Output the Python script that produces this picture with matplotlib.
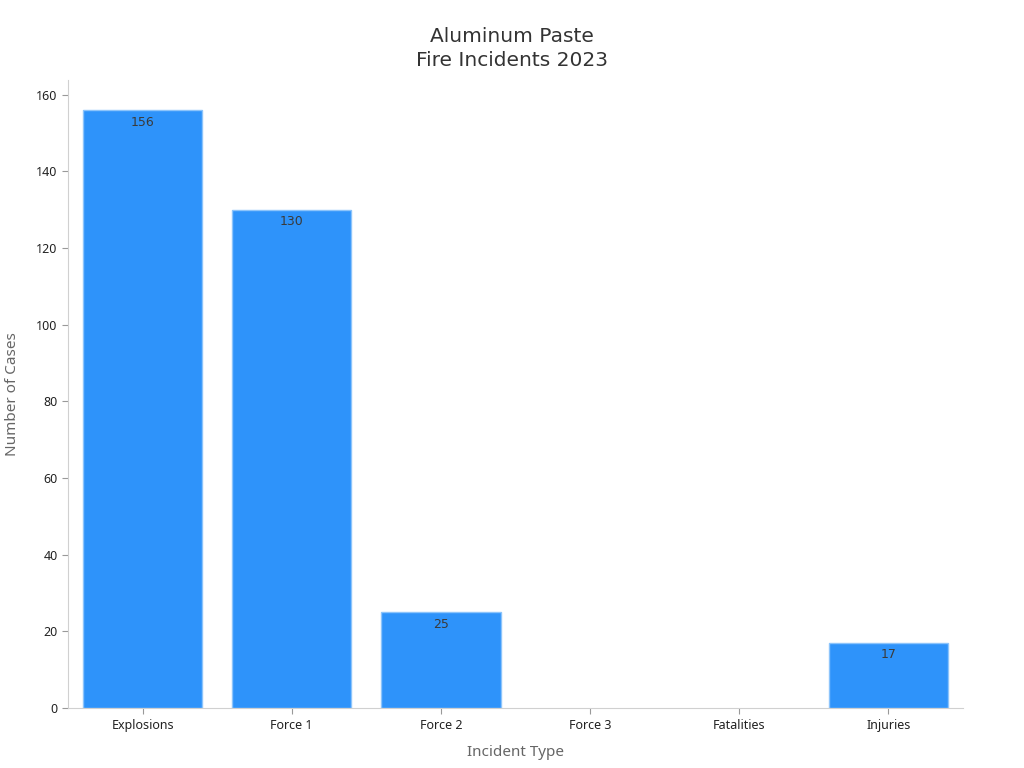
import matplotlib
matplotlib.use("Agg")
import matplotlib.pyplot as plt

plt.rcParams['font.family'] = ['Noto Sans', 'DejaVu Sans']

# data
categories = ["Explosions", "Force 1", "Force 2", "Force 3", "Fatalities", "Injuries"]
cases = [156, 130, 25, 0, 0, 17]

fig = plt.figure(figsize=(10.24, 7.68), dpi=100)
ax = fig.add_axes([0.0664, 0.078, 0.874, 0.818])

x = list(range(len(categories)))
bars = ax.bar(x, cases, width=0.8, color="#2E93FA", edgecolor="#8cc4fb", linewidth=1)

for rect, v in zip(bars, cases):
    if v > 0:
        ax.text(rect.get_x() + rect.get_width() / 2, v - 1.4, str(v),
                ha="center", va="top", fontsize=9, color="#3a3a3a",
                family="DejaVu Sans")
    else:
        # empty categories: no visible outline
        rect.set_linewidth(0)

ax.set_xlim(-0.5, len(categories) - 0.5)
ax.set_ylim(0, 163.9)
ax.set_xticks(x)
ax.set_xticklabels(categories, fontsize=9, color="#222222")
ax.set_yticks(range(0, 161, 20))
ax.tick_params(axis='y', labelsize=9, labelcolor="#222222", color="#999999", length=4)
ax.tick_params(axis='x', color="#999999", length=4)

for side in ["top", "right"]:
    ax.spines[side].set_visible(False)
for side in ["left", "bottom"]:
    ax.spines[side].set_color("#d0d0d0")

ax.set_xlabel("Incident Type", fontsize=11, color="#666666", labelpad=10)
ax.set_ylabel("Number of Cases", fontsize=11, color="#666666", labelpad=12)
# title centred on the figure, not the axes
ax.set_title("Aluminum Paste\nFire Incidents 2023", fontsize=14.5, color="#333333",
             pad=10, family="DejaVu Sans", linespacing=1.35, x=0.496)

fig.savefig("out.png", dpi=100)
